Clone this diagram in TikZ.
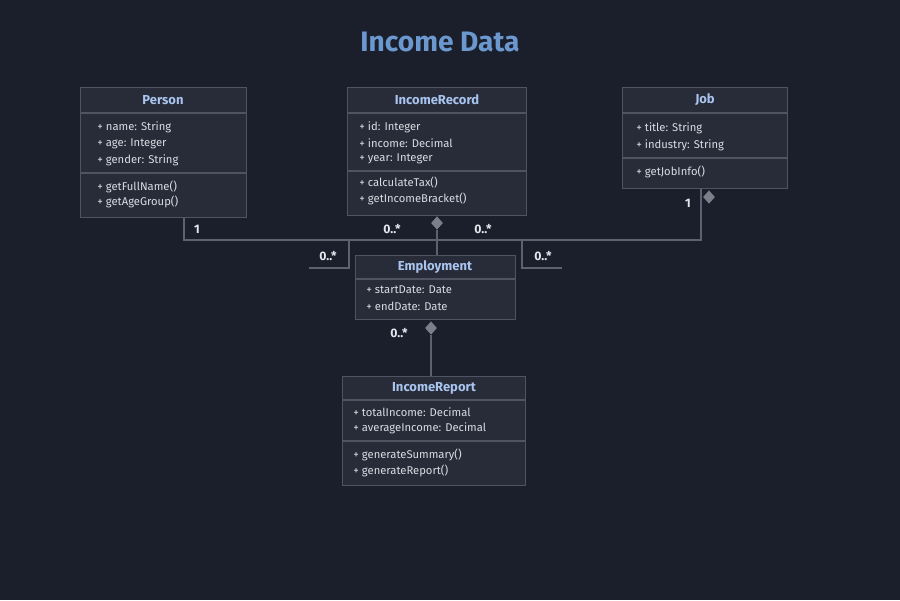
\documentclass[tikz,border=0pt]{standalone}
\usepackage{fontspec}
\setmainfont{Fira Sans}
\usetikzlibrary{shapes.geometric}
\definecolor{bgcol}{HTML}{1B1F2B}
\definecolor{boxfill}{HTML}{272C38}
\definecolor{boxline}{HTML}{4E5461}
\definecolor{linkcol}{HTML}{5C6270}
\definecolor{titlecol}{HTML}{6C98D0}
\definecolor{namecol}{HTML}{A9C4EE}
\definecolor{membercol}{HTML}{D8DCE3}
\definecolor{multcol}{HTML}{E4E7ED}
\definecolor{diamondcol}{HTML}{7A7F89}
\begin{document}
\begin{tikzpicture}[
		x=0.02cm, y=-0.02cm,
		classbox/.style={draw=boxline, fill=boxfill, line width=0.8pt, anchor=north west, inner sep=0},
		sep/.style={draw=boxline, line width=0.8pt},
		classname/.style={font=\bfseries\fontsize{7.4}{8}\selectfont, text=namecol},
		member/.style={font=\fontsize{6.4}{7}\selectfont, text=membercol, anchor=west, inner sep=0},
		mult/.style={font=\bfseries\fontsize{7}{8}\selectfont, text=multcol},
		link/.style={draw=linkcol, line width=1.1pt},
		aggr/.style={diamond, fill=diamondcol, inner sep=0, minimum width=0.24cm, minimum height=0.27cm}
	]
	\fill[bgcol] (0,0) rectangle (900,600);
	\node[font=\bfseries\fontsize{16}{19}\selectfont, text=titlecol] (title) at (440,42) {Income Data};

	% Person
	\node[classbox, minimum width=3.32cm, minimum height=2.6cm] (person) at (80,87) {};
	\draw[sep] (person.west |- 0,113) -- (person.east |- 0,113);
	\draw[sep] (person.west |- 0,173) -- (person.east |- 0,173);
	\node[classname] (personname) at (163,100) {Person};
	\node[member] (pa1) at (97,127) {+ name: String};
	\node[member] (pa2) at (97,144) {+ age: Integer};
	\node[member] (pa3) at (97,160) {+ gender: String};
	\node[member] (pm1) at (97,187) {+ getFullName()};
	\node[member] (pm2) at (97,202) {+ getAgeGroup()};

	% IncomeRecord
	\node[classbox, minimum width=3.58cm, minimum height=2.56cm] (record) at (347,87) {};
	\draw[sep] (record.west |- 0,113) -- (record.east |- 0,113);
	\draw[sep] (record.west |- 0,171) -- (record.east |- 0,171);
	\node[classname] (recordname) at (437,100) {IncomeRecord};
	\node[member] (ra1) at (359,127) {+ id: Integer};
	\node[member] (ra2) at (359,143) {+ income: Decimal};
	\node[member] (ra3) at (359,159) {+ year: Integer};
	\node[member] (rm1) at (359,183) {+ calculateTax()};
	\node[member] (rm2) at (359,199) {+ getIncomeBracket()};

	% Job
	\node[classbox, minimum width=3.3cm, minimum height=2.02cm] (job) at (622,87) {};
	\draw[sep] (job.west |- 0,113) -- (job.east |- 0,113);
	\draw[sep] (job.west |- 0,158) -- (job.east |- 0,158);
	\node[classname] (jobname) at (705,100) {Job};
	\node[member] (ja1) at (636,128) {+ title: String};
	\node[member] (ja2) at (636,145) {+ industry: String};
	\node[member] (jm1) at (636,172) {+ getJobInfo()};

	% Employment
	\node[classbox, minimum width=3.2cm, minimum height=1.28cm] (employment) at (355,255) {};
	\draw[sep] (employment.west |- 0,279) -- (employment.east |- 0,279);
	\node[classname] (employmentname) at (435,267) {Employment};
	\node[member] (ea1) at (366,290) {+ startDate: Date};
	\node[member] (ea2) at (366,306) {+ endDate: Date};

	% IncomeReport
	\node[classbox, minimum width=3.66cm, minimum height=2.18cm] (report) at (342,376) {};
	\draw[sep] (report.west |- 0,400) -- (report.east |- 0,400);
	\draw[sep] (report.west |- 0,441) -- (report.east |- 0,441);
	\node[classname] (reportname) at (434,388) {IncomeReport};
	\node[member] (ia1) at (353,412) {+ totalIncome: Decimal};
	\node[member] (ia2) at (353,428) {+ averageIncome: Decimal};
	\node[member] (im1) at (353,455) {+ generateSummary()};
	\node[member] (im2) at (353,471) {+ generateReport()};

	% connectors
	\coordinate (pj) at (184,240);
	\coordinate (jj) at (701,240);
	\draw[link] (person.south -| pj) -- (pj) -- (jj) -- (job.south -| jj);
	\coordinate (lt) at (349,240);
	\coordinate (le) at (309,268);
	\draw[link] (lt) -- (lt |- le) -- (le);
	\coordinate (rt) at (522,240);
	\coordinate (re) at (562,268);
	\draw[link] (rt) -- (rt |- re) -- (re);

	\node[aggr] (recd) at (437,223) {};
	\draw[link] (recd.south) -- (employment.north -| recd);
	\node[aggr] (jobd) at (709,197) {};
	\node[aggr] (empd) at (431,328) {};
	\draw[link] (empd.south) -- (report.north -| empd);

	% multiplicities
	\node[mult] (m1) at (197,229) {1};
	\node[mult] (m2) at (392,229) {0..*};
	\node[mult] (m3) at (483,229) {0..*};
	\node[mult] (m4) at (328,256) {0..*};
	\node[mult] (m5) at (543,256) {0..*};
	\node[mult] (m6) at (399,333) {0..*};
	\node[mult] (m7) at (688,203) {1};
\end{tikzpicture}
\end{document}
